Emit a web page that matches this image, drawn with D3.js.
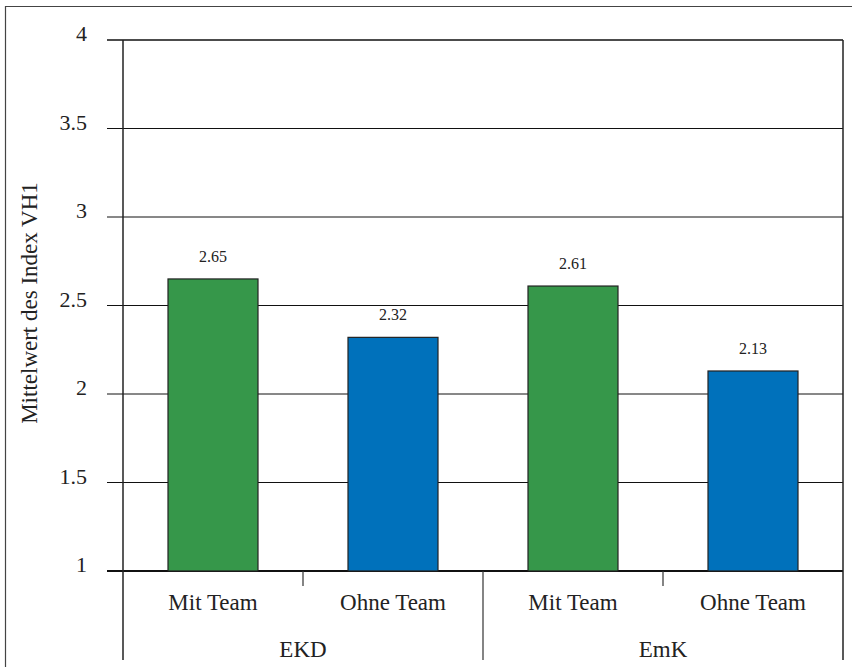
<!DOCTYPE html>
<html><head><meta charset="utf-8">
<script src="https://cdn.jsdelivr.net/npm/d3@7"></script>
<style>body{margin:0;background:#fff}svg{display:block}</style>
</head><body>
<script>
const groups = ["EKD", "EmK"];
const subcats = ["Mit Team", "Ohne Team"];
const values = [2.65, 2.32, 2.61, 2.13];
const barColors = ["#36974a", "#0071bb"];
const yTicks = [1, 1.5, 2, 2.5, 3, 3.5, 4];
const yTitle = "Mittelwert des Index VH1";

const W = 852, H = 667;
const L = 123, R = 843, T = 40, B = 571;
const font = "'Liberation Serif', 'Times New Roman', serif";

const svg = d3.select("body").append("svg").attr("width", W).attr("height", H);

// outer frame
svg.append("path").attr("d", `M5.5,${H} V6.5 H${W}`).attr("fill","none").attr("stroke","#444").attr("stroke-width",1.2);

const keys = [];
groups.forEach(g => subcats.forEach(s => keys.push(g + "|" + s)));
const x = d3.scaleBand().domain(keys).range([L, R]).paddingInner(0.5).paddingOuter(0.25);
const y = d3.scaleLinear().domain([1, 4]).range([B, T]);

// gridlines + ticks
svg.append("g").selectAll("line").data(yTicks).join("line")
  .attr("x1", 107).attr("x2", R).attr("y1", d => y(d)).attr("y2", d => y(d))
  .attr("stroke", "#111").attr("stroke-width", d => d === 1 ? 2 : (d === 4 ? 1.5 : 1));

svg.append("g").selectAll("text").data(yTicks).join("text")
  .attr("x", 87).attr("y", d => y(d) + 1)
  .attr("text-anchor", "end").attr("font-family", font).attr("font-size", 22).attr("fill", "#222")
  .text(d => d);

// bars
svg.append("g").selectAll("rect").data(values).join("rect")
  .attr("x", (d, i) => x(keys[i])).attr("width", x.bandwidth())
  .attr("y", d => y(d)).attr("height", d => y(1) - y(d))
  .attr("fill", (d, i) => barColors[i % 2]).attr("stroke", "#222").attr("stroke-width", 1.2);

svg.append("g").selectAll("text").data(values).join("text")
  .attr("x", (d, i) => x(keys[i]) + x.bandwidth() / 2).attr("y", d => y(d) - 17)
  .attr("text-anchor", "middle").attr("font-family", font).attr("font-size", 16).attr("fill", "#222")
  .text(d => d.toFixed(2));

// axes lines
svg.append("line").attr("x1", L).attr("x2", L).attr("y1", T).attr("y2", 660).attr("stroke", "#222").attr("stroke-width", 1.5);
svg.append("line").attr("x1", R).attr("x2", R).attr("y1", T).attr("y2", 660).attr("stroke", "#222").attr("stroke-width", 1.5);

const step = (R - L) / keys.length;
// separators
const seps = [1, 2, 3];
svg.append("g").selectAll("line").data(seps).join("line")
  .attr("x1", d => L + d * step).attr("x2", d => L + d * step)
  .attr("y1", B).attr("y2", d => d % 2 === 0 ? 660 : 586)
  .attr("stroke", "#333").attr("stroke-width", 1.2);

// category labels
svg.append("g").selectAll("text").data(keys).join("text")
  .attr("x", k => x(k) + x.bandwidth() / 2).attr("y", 610)
  .attr("text-anchor", "middle").attr("font-family", font).attr("font-size", 23).attr("fill", "#222")
  .text(k => k.split("|")[1]);

svg.append("g").selectAll("text").data(groups).join("text")
  .attr("x", (g, i) => L + (i * 2 + 1) * step).attr("y", 657)
  .attr("text-anchor", "middle").attr("font-family", font).attr("font-size", 23).attr("fill", "#222")
  .text(g => g);

// y title
svg.append("text").attr("transform", `translate(37,303) rotate(-90)`)
  .attr("text-anchor", "middle").attr("font-family", font).attr("font-size", 23).attr("fill", "#222")
  .text(yTitle);
</script>
</body></html>
